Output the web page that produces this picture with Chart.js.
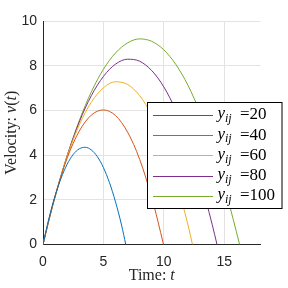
<!DOCTYPE html>
<html>
<head>
<meta charset="utf-8">
<script src="https://cdn.jsdelivr.net/npm/chart.js@4.4.1/dist/chart.umd.min.js"></script>
<style>
  html,body{margin:0;padding:0;background:#fff;}
  canvas{display:block;}
</style>
</head>
<body>
<canvas id="velChart" width="288" height="288"></canvas>
<script>
/* =========================
   Dados
   ========================= */
const t20  = [0,0.5,1,1.5,2,2.5,3,3.5,4,4.5,5,5.5,6,6.5,6.85];
const v20  = [0,1.18,2.17,2.97,3.59,4.03,4.28,4.35,4.23,3.93,3.44,2.77,1.91,0.87,0];

const t40  = [0,0.5,1,2,3,4,5,6,7,8,9,9.5,9.97];
const v40  = [0,1.15,2.17,3.87,5.07,5.79,6.02,5.77,5.03,3.81,2.10,1.06,0];

const t60  = [0,0.5,1,2,3,4,5,6,7,8,9,10,11,12,12.37];
const v60  = [0,1.13,2.16,3.95,5.35,6.37,7.01,7.28,7.16,6.66,5.78,4.52,2.89,0.87,0];

const t80  = [0,0.5,1,2,3,4,5,6,7,8,9,10,11,12,13,14,14.4];
const v80  = [0,1.12,2.15,3.97,5.48,6.66,7.52,8.07,8.29,8.20,7.78,7.05,5.99,4.61,2.91,0.90,0];

const t100 = [0,0.5,1,2,3,4,5,6,7,8,9,10,11,12,13,14,15,16,16.27];
const v100 = [0,1.10,2.12,3.97,5.54,6.83,7.84,8.57,9.02,9.20,9.09,8.71,8.05,7.12,5.90,4.40,2.63,0.58,0];

const legendVals = ['20','40','60','80','100'];
const cores = ['#0072BD','#D95319','#EDB120','#7E2F8E','#77AC30'];
const xTicks = [0,5,10,15];
const yTicks = [0,2,4,6,8,10];

const pts = (ts,vs)=>ts.map((t,i)=>({x:t,y:vs[i]}));
const series = [pts(t20,v20),pts(t40,v40),pts(t60,v60),pts(t80,v80),pts(t100,v100)];

/* =========================
   Plugin: títulos + legenda
   ========================= */
const SERIF = '"Liberation Serif","DejaVu Serif",serif';
const extras = {
  id:'extras',
  afterDraw(chart){
    const ctx = chart.ctx, a = chart.chartArea;
    ctx.save();
    ctx.fillStyle = '#262626';
    ctx.textBaseline = 'middle';

    // eixo x: "Time: t"
    const xl1 = 'Time: ', xl2 = 't';
    ctx.font = '16px '+SERIF;
    const w1 = ctx.measureText(xl1).width;
    ctx.font = 'italic 16px '+SERIF;
    const w2 = ctx.measureText(xl2).width;
    let x0 = (a.left+a.right)/2 - (w1+w2)/2;
    ctx.textAlign = 'left';
    ctx.font = '16px '+SERIF; ctx.fillText(xl1, x0, 276);
    ctx.font = 'italic 16px '+SERIF; ctx.fillText(xl2, x0+w1, 276);

    // eixo y: "Velocity: v(t)"
    ctx.save();
    ctx.translate(12,(a.top+a.bottom)/2);
    ctx.rotate(-Math.PI/2);
    const parts = [['Velocity: ',''],['v','italic '],['(',''],['t','italic '],[')','']];
    let tw = 0;
    parts.forEach(p=>{ ctx.font = p[1]+'16px '+SERIF; tw += ctx.measureText(p[0]).width; });
    let px = -tw/2;
    parts.forEach(p=>{ ctx.font = p[1]+'16px '+SERIF; ctx.fillText(p[0],px,0); px += ctx.measureText(p[0]).width; });
    ctx.restore();

    // legenda
    const lx=147.5, ly=102.5, lw=134.5, lh=106;
    ctx.fillStyle='#fff';
    ctx.fillRect(lx,ly,lw,lh);
    ctx.strokeStyle='#000'; ctx.lineWidth=1;
    ctx.strokeRect(lx,ly,lw,lh);
    chart.data.datasets.forEach((ds,i)=>{
      const yy = 115 + i*20.2;
      ctx.strokeStyle = ds.borderColor;
      ctx.beginPath(); ctx.moveTo(153,Math.round(yy)+0.5); ctx.lineTo(213,Math.round(yy)+0.5); ctx.stroke();
      ctx.fillStyle = '#000';
      ctx.font = 'italic 17px '+SERIF; ctx.fillText('y',217.5,yy-1);
      ctx.font = 'italic 12px '+SERIF; ctx.fillText('ij',225,yy+4);
      ctx.font = '17px '+SERIF; ctx.fillText('='+legendVals[i],240,yy);
    });
    ctx.restore();
  }
};

/* =========================
   Chart.js
   ========================= */
const datasets = series.map((d,i)=>({
  label:'y_ij ='+legendVals[i], data:d,
  borderColor:cores[i], borderWidth:1, pointRadius:0,
  cubicInterpolationMode:'monotone', fill:false
}));

new Chart(document.getElementById('velChart'),{
  type:'line',
  data:{datasets},
  options:{
    responsive:false, animation:false,
    layout:{padding:{left:0,top:21,right:27.5,bottom:0}},
    plugins:{legend:{display:false},tooltip:{enabled:false}},
    scales:{
      x:{
        type:'linear', min:0, max:18,
        afterBuildTicks:(s)=>{ s.ticks = xTicks.map(v=>({value:v})); },
        afterFit:(s)=>{ s.height = 43.5; },
        grid:{color:'#e3e3e3', drawTicks:false},
        border:{color:'#262626', width:1},
        ticks:{color:'#262626', padding:9, font:{family:'"Liberation Sans",Arial,sans-serif', size:14}}
      },
      y:{
        type:'linear', min:0, max:10,
        afterBuildTicks:(s)=>{ s.ticks = yTicks.map(v=>({value:v})); },
        afterFit:(s)=>{ s.width = 43; },
        grid:{color:'#e3e3e3', drawTicks:false},
        border:{color:'#262626', width:1},
        ticks:{color:'#262626', padding:6, font:{family:'"Liberation Sans",Arial,sans-serif', size:14}}
      }
    }
  },
  plugins:[extras]
});
</script>
</body>
</html>
